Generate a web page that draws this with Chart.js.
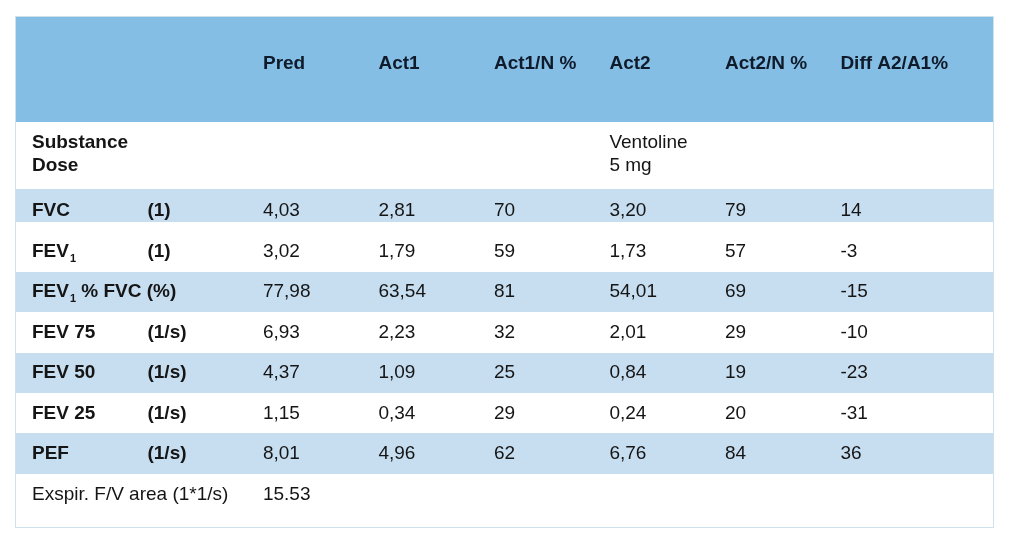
<!DOCTYPE html>
<html>
<head>
<meta charset="utf-8">
<script src="https://cdn.jsdelivr.net/npm/chart.js@4/dist/chart.umd.min.js"></script>
<style>
  html, body { margin: 0; padding: 0; background: #fff; }
  #wrap { width: 1023px; height: 533px; }
</style>
</head>
<body>
<div id="wrap"><canvas id="table"></canvas></div>
<script>
/* ---- data ---- */
const headers = ['Pred', 'Act1', 'Act1/N %', 'Act2', 'Act2/N %', 'Diff A2/A1%'];
const rowLabels = ['FVC', 'FEV_1', 'FEV_1 % FVC (%)', 'FEV 75', 'FEV 50', 'FEV 25', 'PEF'];
const rowUnits = ['(1)', '(1)', '', '(1/s)', '(1/s)', '(1/s)', '(1/s)'];
const pred = [4.03, 3.02, 77.98, 6.93, 4.37, 1.15, 8.01];
const act1 = [2.81, 1.79, 63.54, 2.23, 1.09, 0.34, 4.96];
const act1N = [70, 59, 81, 32, 25, 29, 62];
const act2 = [3.20, 1.73, 54.01, 2.01, 0.84, 0.24, 6.76];
const act2N = [79, 57, 69, 29, 19, 20, 84];
const diffA2A1 = [14, -3, -15, -10, -23, -31, 36];
const substanceLabels = ['Substance', 'Dose'];
const substanceAct2 = ['Ventoline', '5 mg'];
const areaLabel = 'Exspir. F/V area (1*1/s)';
const areaPred = '15.53';

/* ---- layout (row units on y, column index on x) ---- */
const HEADER_Y = -3.64;
const SUBST_Y = [-1.67, -1.12];
const AREA_Y = 7;
const HEADER_BOTTOM = -2.162;
const STRIPES = [[-0.508, 0.307], [1.542, 2.530], [3.542, 4.530], [5.518, 6.530]];
const COL_ACT2 = 5;

const FONT = "'Liberation Sans', Arial, sans-serif";
const SIZE = 19;

const fmt2 = v => v.toFixed(2).replace('.', ',');

// build one cell per text item
const cells = [];
headers.forEach((h, i) => cells.push({ x: i + 2, y: HEADER_Y, text: h, bold: true, head: true }));
substanceLabels.forEach((t, i) => cells.push({ x: 0, y: SUBST_Y[i], text: t, bold: true }));
substanceAct2.forEach((t, i) => cells.push({ x: COL_ACT2, y: SUBST_Y[i], text: t }));
rowLabels.forEach((t, r) => {
  cells.push({ x: 0, y: r, text: t, bold: true });
  if (rowUnits[r]) cells.push({ x: 1, y: r, text: rowUnits[r], bold: true });
  cells.push({ x: 2, y: r, text: fmt2(pred[r]) });
  cells.push({ x: 3, y: r, text: fmt2(act1[r]) });
  cells.push({ x: 4, y: r, text: String(act1N[r]) });
  cells.push({ x: 5, y: r, text: fmt2(act2[r]) });
  cells.push({ x: 6, y: r, text: String(act2N[r]) });
  cells.push({ x: 7, y: r, text: String(diffA2A1[r]) });
});
cells.push({ x: 0, y: AREA_Y, text: areaLabel });
cells.push({ x: 2, y: AREA_Y, text: areaPred });

// draws text, "_1" becomes a subscript
function drawRich(ctx, text, x, y, bold) {
  const w = bold ? 'bold ' : '';
  const parts = text.split(/_(\d)/);
  let cx = x;
  parts.forEach((p, i) => {
    if (!p) return;
    if (i % 2 === 1) {
      ctx.font = w + '11px ' + FONT;
      ctx.fillText(p, cx + 1, y + 5);
      cx += ctx.measureText(p).width + 1;
    } else {
      ctx.font = w + SIZE + 'px ' + FONT;
      ctx.fillText(p, cx, y);
      cx += ctx.measureText(p).width;
    }
  });
}

const tablePlugin = {
  id: 'tablePlugin',
  beforeDatasetsDraw(chart) {
    const { ctx, chartArea: a, scales: { y } } = chart;
    ctx.save();
    // header band
    ctx.fillStyle = '#85bee5';
    ctx.fillRect(a.left, a.top, a.right - a.left, y.getPixelForValue(HEADER_BOTTOM) - a.top);
    // striped rows
    ctx.fillStyle = '#c7def1';
    STRIPES.forEach(([t, b]) => {
      const y0 = y.getPixelForValue(t);
      ctx.fillRect(a.left, y0, a.right - a.left, y.getPixelForValue(b) - y0);
    });
    // frame
    ctx.strokeStyle = '#cfe2ec';
    ctx.lineWidth = 1;
    ctx.strokeRect(a.left + 0.5, a.top + 0.5, a.right - a.left - 1, a.bottom - a.top - 1);
    ctx.restore();
  },
  afterDatasetsDraw(chart) {
    const { ctx } = chart;
    const meta = chart.getDatasetMeta(0);
    const data = chart.data.datasets[0].data;
    ctx.save();
    ctx.textAlign = 'left';
    ctx.textBaseline = 'alphabetic';
    meta.data.forEach((pt, i) => {
      const c = data[i];
      ctx.fillStyle = c.head ? '#0f1b2b' : '#151515';
      drawRich(ctx, c.text, pt.x, pt.y + 6.5, c.bold);
    });
    ctx.restore();
  }
};

new Chart(document.getElementById('table'), {
  type: 'scatter',
  data: { datasets: [{ data: cells, pointRadius: 0, pointHoverRadius: 0 }] },
  options: {
    responsive: true,
    maintainAspectRatio: false,
    animation: false,
    events: [],
    layout: { padding: { left: 15, top: 16, right: 29, bottom: 5 } },
    scales: {
      x: { type: 'linear', min: -0.147, max: 8.33, display: false },
      y: { type: 'linear', min: -4.78, max: 7.864, reverse: true, display: false }
    },
    plugins: { legend: { display: false }, tooltip: { enabled: false } }
  },
  plugins: [tablePlugin]
});
</script>
</body>
</html>
